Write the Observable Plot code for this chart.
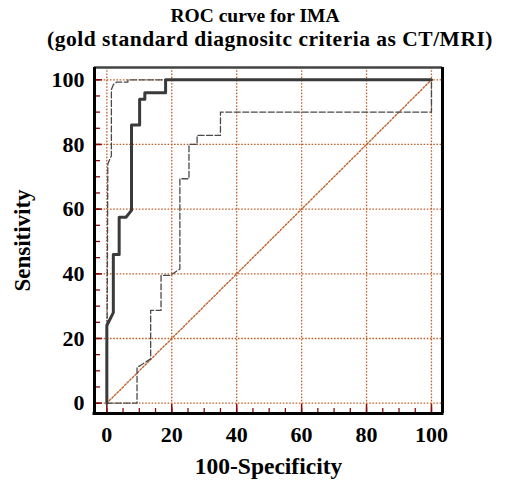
<!DOCTYPE html>
<html>
<head>
<meta charset="utf-8">
<script src="https://cdn.jsdelivr.net/npm/d3@7"></script>
<script src="https://cdn.jsdelivr.net/npm/@observablehq/plot@0.6"></script>
<style>
  html, body { margin: 0; padding: 0; background: #fff; }
  #wrap { position: relative; width: 508px; height: 484px; overflow: hidden; }
  .title { position: absolute; font-family: "Liberation Serif", "Times New Roman", serif; font-weight: bold; white-space: nowrap; transform: translateX(-50%); color: #000; }
  #chart { position: absolute; left: 0; top: 60px; }
</style>
</head>
<body>
<div id="wrap">
  <div class="title" id="t1" style="left:255px; top:5.5px; font-size:19.5px; line-height:19.5px;"></div>
  <div class="title" id="t2" style="left:270px; top:28.7px; font-size:21.5px; line-height:21.5px; letter-spacing:0.5px;"></div>
  <div id="chart"></div>
</div>
<script>
const titleLine1 = "ROC curve for IMA";
const titleLine2 = "(gold standard diagnositc criteria as CT/MRI)";
const xLabel = "100-Specificity";
const yLabel = "Sensitivity";

const tickLabels = [0, 20, 40, 60, 80, 100];
const minorTicks = d3.range(0, 101, 5);

// ROC curve (solid)
const rocX = [0, 0, 2, 2, 3.8, 3.8, 5.9, 7.6, 7.6, 10.1, 10.1, 11.7, 11.7, 18.1, 18.1, 100];
const rocY = [0, 24, 28, 46, 46, 57.5, 57.5, 59.6, 86, 86, 94, 94, 96, 96, 100, 100];

// upper confidence bound (dashed)
const upX = [0, 0.3, 1.4, 1.4, 2, 3, 6.5, 6.5, 100];
const upY = [0, 74, 76.5, 97, 98.5, 99.3, 99.3, 100, 100];

// lower confidence bound (dashed)
const lowX = [0, 9.3, 9.3, 10.4, 13.5, 13.5, 16.7, 16.7, 19.6, 22.5, 22.5, 25.3, 25.3, 27.8, 27.8, 35, 35, 100, 100];
const lowY = [0, 0, 11.1, 11.7, 13.7, 28.7, 28.7, 39.5, 39.5, 41.5, 69.4, 69.4, 80, 80, 82.8, 82.8, 90, 90, 100];

const diagX = [0, 100];
const diagY = [0, 100];

document.getElementById("t1").textContent = titleLine1;
document.getElementById("t2").textContent = titleLine2;

const toPts = (xs, ys) => xs.map((x, i) => ({x, y: ys[i]}));
const roc = toPts(rocX, rocY);
const up = toPts(upX, upY);
const low = toPts(lowX, lowY);
const diag = toPts(diagX, diagY);

const font = '"Liberation Serif", "Times New Roman", serif';
const gridColor = "#c0622e";
const tickColor = "#8b0a0a";
const xDom = [-3.8, 103.4];
const yDom = [-3.2, 103.8];
const W = 508, H = 424, mL = 94, mR = 66, mT = 7, mB = 71;
const fw = W - mL - mR, fh = H - mT - mB;

const chart = Plot.plot({
  width: W,
  height: H,
  marginLeft: mL,
  marginRight: mR,
  marginTop: mT,
  marginBottom: mB,
  style: {fontFamily: font, background: "#fff"},
  x: {domain: xDom, axis: null},
  y: {domain: yDom, axis: null},
  marks: [
    // grid
    Plot.ruleX(tickLabels, {stroke: gridColor, strokeWidth: 1.3, strokeDasharray: "1.6,1.6"}),
    Plot.ruleY(tickLabels, {stroke: gridColor, strokeWidth: 1.3, strokeDasharray: "1.6,1.6"}),
    Plot.line(diag, {x: "x", y: "y", stroke: gridColor, strokeWidth: 1.4, strokeDasharray: "1.8,1.8"}),
    // inner ticks
    Plot.tickX(minorTicks, {x: d => d, stroke: tickColor, strokeWidth: 1.3, insetTop: fh - 5}),
    Plot.tickX(tickLabels, {x: d => d, stroke: tickColor, strokeWidth: 1.5, insetTop: fh - 9}),
    Plot.tickY(minorTicks, {y: d => d, stroke: tickColor, strokeWidth: 1.3, insetRight: fw - 6}),
    Plot.tickY(tickLabels, {y: d => d, stroke: tickColor, strokeWidth: 1.5, insetRight: fw - 8}),
    // curves
    Plot.line(low, {x: "x", y: "y", stroke: "#4a4a4a", strokeWidth: 1.3, strokeDasharray: "6,2.5", curve: "linear"}),
    Plot.line(up, {x: "x", y: "y", stroke: "#4a4a4a", strokeWidth: 1.3, strokeDasharray: "6,2.5", curve: "linear"}),
    Plot.line(roc, {x: "x", y: "y", stroke: "#3a3a3a", strokeWidth: 3, curve: "linear"}),
    // frame: top lighter, others black
    Plot.ruleY([yDom[1]], {stroke: "#444", strokeWidth: 2.5}),
    Plot.ruleX(xDom, {stroke: "#000", strokeWidth: 3}),
    Plot.ruleY([yDom[0]], {stroke: "#000", strokeWidth: 3, insetLeft: -1.5, insetRight: -1.5}),
    // tick labels
    Plot.text(tickLabels, {x: d => d, y: () => yDom[0], text: d => String(d), dy: 21, fontSize: 22, fontWeight: "bold", fill: "#000", lineAnchor: "middle"}),
    Plot.text(tickLabels, {y: d => d, x: () => xDom[0], text: d => String(d), dx: -10, textAnchor: "end", lineAnchor: "middle", fontSize: 22, fontWeight: "bold", fill: "#000"}),
    // axis labels
    Plot.text([xLabel], {frameAnchor: "bottom", text: d => d, dy: 53, textAnchor: "middle", lineAnchor: "middle", fontSize: 23.5, fontWeight: "bold", fill: "#000"}),
    Plot.text([yLabel], {frameAnchor: "left", text: d => d, dx: -72, rotate: -90, textAnchor: "middle", lineAnchor: "middle", fontSize: 23, fontWeight: "bold", fill: "#000"})
  ]
});
document.getElementById("chart").appendChild(chart);
</script>
</body>
</html>
